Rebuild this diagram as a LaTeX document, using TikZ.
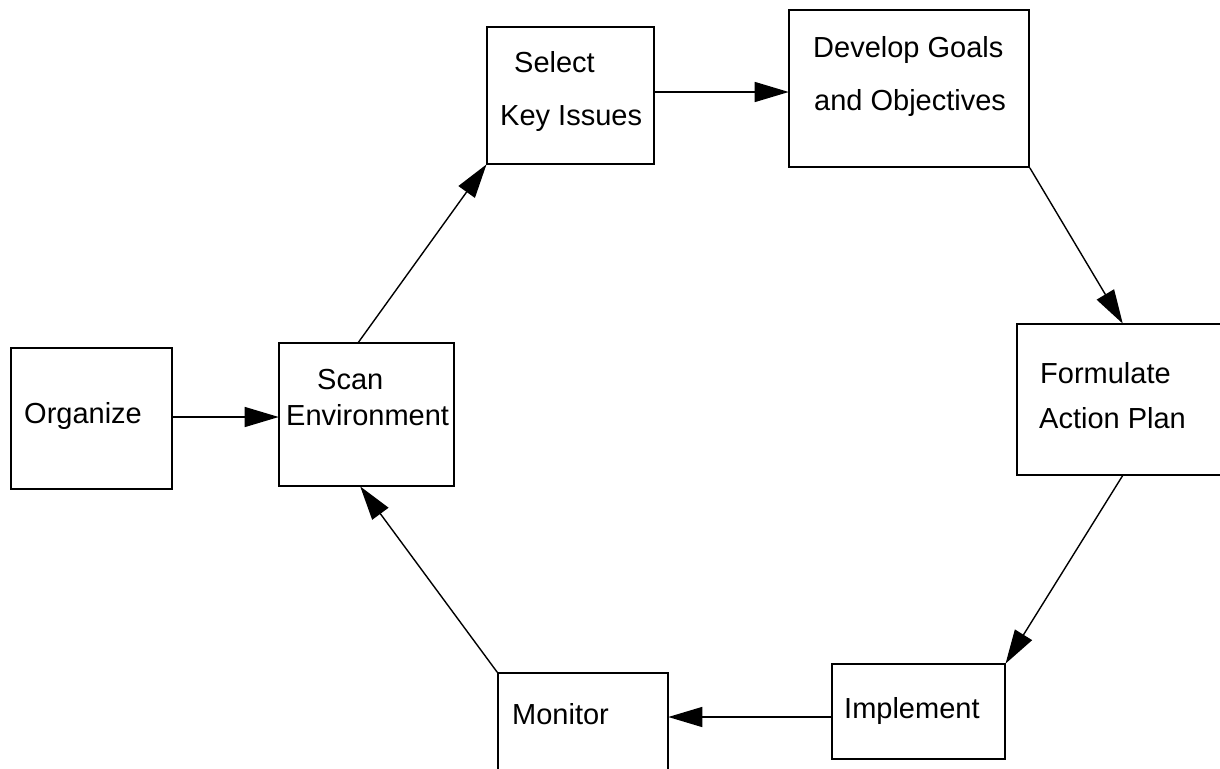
\documentclass[tikz,border=0pt]{standalone}
\usepackage{fontspec}
\setmainfont{Liberation Sans}
\usetikzlibrary{arrows.meta,calc}
\tikzset{
  box/.style={draw, line width=1.6pt, rectangle, inner sep=0pt},
  lbl/.style={font=\fontsize{29}{34}\selectfont, inner sep=0pt, anchor=base west},
  flow/.style={line width=1.4pt, -{Triangle[length=34pt,width=20pt]}, shorten >=-0.5pt},
}
\begin{document}
\begin{tikzpicture}[x=1pt,y=-1pt]
  \useasboundingbox (0,0) rectangle (1220,768);
  \fill[white] (0,0) rectangle (1220,768);
  \clip (0,0) rectangle (1220,768);

  % process boxes
  \node[box, minimum width=161pt, minimum height=141pt] (org)  at (91.5,418.5) {};
  \node[box, minimum width=175pt, minimum height=143pt] (scan) at (366.5,414.5) {};
  \node[box, minimum width=167pt, minimum height=137pt] (sel)  at (570.5,95.5) {};
  \node[box, minimum width=240pt, minimum height=157pt] (dev)  at (909,88.5) {};
  \node[box, minimum width=211pt, minimum height=151pt] (form) at (1122.5,399.5) {};
  \node[box, minimum width=173pt, minimum height=95pt]  (impl) at (918.5,711.5) {};
  \node[box, minimum width=170pt, minimum height=102pt] (mon)  at (583,724) {};

  % box captions
  \node[lbl] (org-t)   at (24,423)   {Organize};
  \node[lbl] (scan-t1) at (317,389)  {Scan};
  \node[lbl] (scan-t2) at (286,425)  {Environment};
  \node[lbl] (sel-t1)  at (514,72)   {Select};
  \node[lbl] (sel-t2)  at (500,125)  {Key Issues};
  \node[lbl] (dev-t1)  at (813,58)   {Develop Goals};
  \node[lbl] (dev-t2)  at (814,110)  {and Objectives};
  \node[lbl] (form-t1) at (1040,383) {Formulate};
  \node[lbl] (form-t2) at (1039,428) {Action Plan};
  \node[lbl] (impl-t)  at (844,718)  {Implement};
  \node[lbl] (mon-t)   at (512,724)  {Monitor};

  % cycle connectors
  \draw[flow] ([yshift=1.5pt]org.east) -- ([yshift=1.5pt]org.east -| scan.west);
  \draw[flow] ([xshift=-8pt]scan.north) -- (sel.south west);
  \draw[flow] ([yshift=3.5pt]sel.east) -- ([yshift=3.5pt]sel.east -| dev.west);
  \draw[flow] (dev.south east) -- (form.north);
  \draw[flow] (form.south) -- (impl.north east);
  \draw[flow] ([yshift=-5.5pt]impl.west) -- ([yshift=-5.5pt]impl.west -| mon.east);
  \draw[flow] (mon.north west) -- ([xshift=-6pt]scan.south);
\end{tikzpicture}
\end{document}
